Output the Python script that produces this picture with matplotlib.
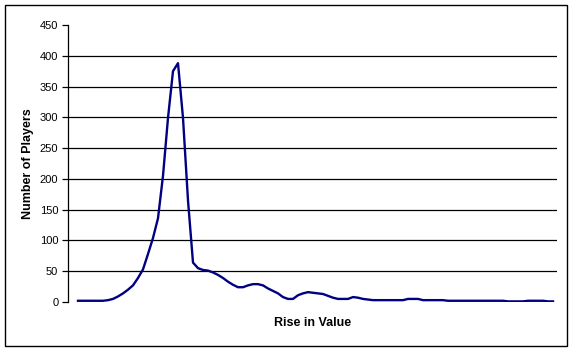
import matplotlib.pyplot as plt
from matplotlib.patches import Rectangle

# players per bin of value rise
players = [2, 2, 2, 2, 2, 2, 3, 5, 9, 14,
           20, 27, 39, 53, 78, 104, 136, 205, 299, 375,
           388, 299, 165, 64, 55, 52, 51, 48, 44, 39,
           33, 28, 24, 24, 27, 29, 29, 27, 22, 18,
           14, 8, 5, 5, 11, 14, 16, 15, 14, 13,
           10, 7, 5, 5, 5, 8, 7, 5, 4, 3,
           3, 3, 3, 3, 3, 3, 5, 5, 5, 3,
           3, 3, 3, 3, 2, 2, 2, 2, 2, 2,
           2, 2, 2, 2, 2, 2, 1, 1, 1, 1,
           2, 2, 2, 2, 1, 1]
yticks = [0, 50, 100, 150, 200, 250, 300, 350, 400, 450]

plt.rcParams['font.family'] = ['Liberation Sans', 'DejaVu Sans']

fig = plt.figure(figsize=(5.76, 3.51), dpi=100)
ax = fig.add_axes([68/576, 1-302/351, (557-68)/576, (302-25)/351])

for v in yticks[1:-1]:
    ax.axhline(v, color='black', lw=0.9, zorder=1)

ax.plot(range(len(players)), players, color='#000080', lw=1.7, zorder=3)

ax.set_xlim(-2, 95.8)
ax.set_ylim(0, 450)
ax.set_yticks(yticks)
ax.set_xticks([])
ax.tick_params(axis='y', length=4, width=0.9, labelsize=8, pad=3)
for s in ['top', 'right', 'bottom']:
    ax.spines[s].set_visible(False)
ax.spines['left'].set_linewidth(0.9)

ax.set_ylabel('Number of Players', fontsize=9, fontweight='bold')
ax.set_xlabel('Rise in Value', fontsize=9, fontweight='bold')
ax.yaxis.set_label_coords((28-68)/489, 0.5)
ax.xaxis.set_label_coords(0.5, (302-323)/277)
ax.xaxis.label.set_va('center')
ax.yaxis.label.set_va('center')

fig.patches.append(Rectangle((5/576, 1-346/351), (567-5)/576, (346-5)/351,
                             transform=fig.transFigure, fill=False,
                             edgecolor='black', lw=1))

fig.savefig('out.png', dpi=100)
